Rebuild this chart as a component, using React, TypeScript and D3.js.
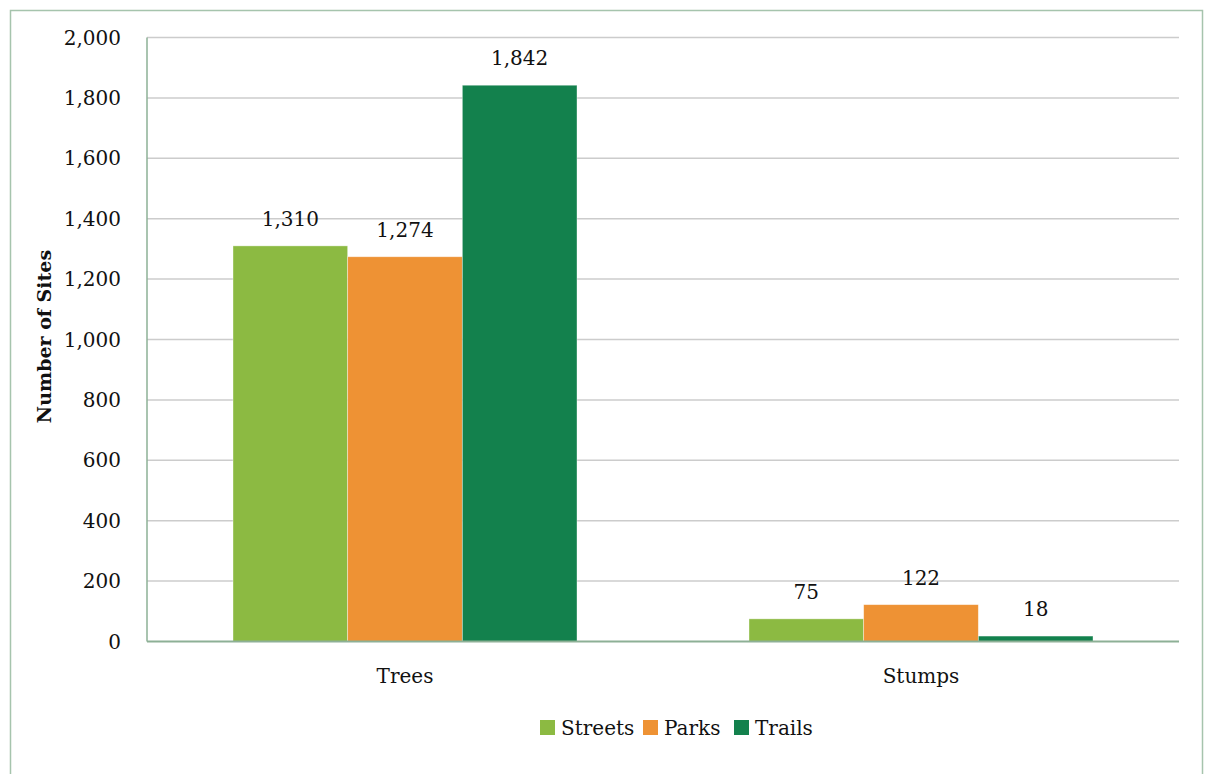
import React from "react";
import * as d3 from "d3";

const categories = ["Trees", "Stumps"];
const seriesNames = ["Streets", "Parks", "Trails"];
const streets = [1310, 75];
const parks = [1274, 122];
const trails = [1842, 18];
const seriesColors = ["#8cba42", "#ee9234", "#13814d"];
const yTicks = [0, 200, 400, 600, 800, 1000, 1200, 1400, 1600, 1800, 2000];

const W = 1206;
const H = 774;
const FONT = "'DejaVu Serif', 'Liberation Serif', serif";
const FS = 20;

export default function App() {
  const values = [streets, parks, trails];
  const plot = { left: 147, right: 1179, top: 37.5, bottom: 641.5 };

  const x = d3
    .scaleBand<string>()
    .domain(categories)
    .range([plot.left, plot.right])
    .paddingInner(0)
    .paddingOuter(0);
  const bandPad = x.bandwidth() / 6;
  const xs = d3
    .scaleBand<string>()
    .domain(seriesNames)
    .range([bandPad, x.bandwidth() - bandPad]);
  const y = d3.scaleLinear().domain([0, 2000]).range([plot.bottom, plot.top]);
  const fmt = d3.format(",");

  return (
    <div style={{ position: "absolute", left: 0, top: 0 }}>
      <svg width={W} height={H} style={{ display: "block", fontFamily: FONT }}>
        <rect x={0} y={0} width={W} height={H} fill="#ffffff" />
        <rect
          x={10.5}
          y={10.5}
          width={1192}
          height={H + 20}
          fill="none"
          stroke="#a6c4ad"
          strokeWidth={1.5}
        />
        {/* horizontal gridlines */}
        {yTicks.slice(1).map((t) => (
          <line
            key={t}
            x1={plot.left}
            x2={plot.right}
            y1={y(t)}
            y2={y(t)}
            stroke="#cccccc"
            strokeWidth={1.5}
          />
        ))}
        {/* bars */}
        {seriesNames.map((s, si) =>
          categories.map((c, ci) => {
            const v = values[si][ci];
            const bx = (x(c) as number) + (xs(s) as number);
            const bw = xs.bandwidth();
            return (
              <g key={s + c}>
                <rect
                  x={bx}
                  y={y(v)}
                  width={bw}
                  height={plot.bottom - y(v)}
                  fill={seriesColors[si]}
                  stroke="#ffffff"
                  strokeOpacity={0.5}
                  strokeWidth={0.75}
                />
                <text
                  x={bx + bw / 2}
                  y={y(v) - 20}
                  textAnchor="middle"
                  fontSize={FS}
                  fill="#111111"
                >
                  {fmt(v)}
                </text>
              </g>
            );
          })
        )}
        {/* axes lines */}
        <line
          x1={plot.left}
          x2={plot.left}
          y1={plot.top}
          y2={plot.bottom}
          stroke="#8db096"
          strokeWidth={1.5}
        />
        <line
          x1={plot.left}
          x2={plot.right}
          y1={plot.bottom}
          y2={plot.bottom}
          stroke="#8db096"
          strokeWidth={2}
        />
        {/* y tick labels */}
        {yTicks.map((t) => (
          <text
            key={t}
            x={121}
            y={y(t)}
            dy="0.35em"
            textAnchor="end"
            fontSize={FS}
            fill="#111111"
          >
            {fmt(t)}
          </text>
        ))}
        {/* category labels */}
        {categories.map((c) => (
          <text
            key={c}
            x={(x(c) as number) + x.bandwidth() / 2}
            y={683}
            textAnchor="middle"
            fontSize={FS}
            fill="#111111"
          >
            {c}
          </text>
        ))}
        {/* y axis title */}
        <text
          transform={`translate(51, ${(plot.top + plot.bottom) / 2 - 3}) rotate(-90)`}
          textAnchor="middle"
          fontSize={19}
          fontWeight="bold"
          fill="#111111"
        >
          Number of Sites
        </text>
        {/* legend */}
        {(() => {
          const items = seriesNames.map((s, i) => ({ s, c: seriesColors[i] }));
          const xsLeg = [540, 643, 734];
          return items.map((it, i) => (
            <g key={it.s} transform={`translate(${xsLeg[i]}, 720)`}>
              <rect x={0} y={0} width={15} height={15} fill={it.c} />
              <text x={21} y={7.5} dy="0.35em" fontSize={FS} fill="#111111">
                {it.s}
              </text>
            </g>
          ));
        })()}
      </svg>
    </div>
  );
}
